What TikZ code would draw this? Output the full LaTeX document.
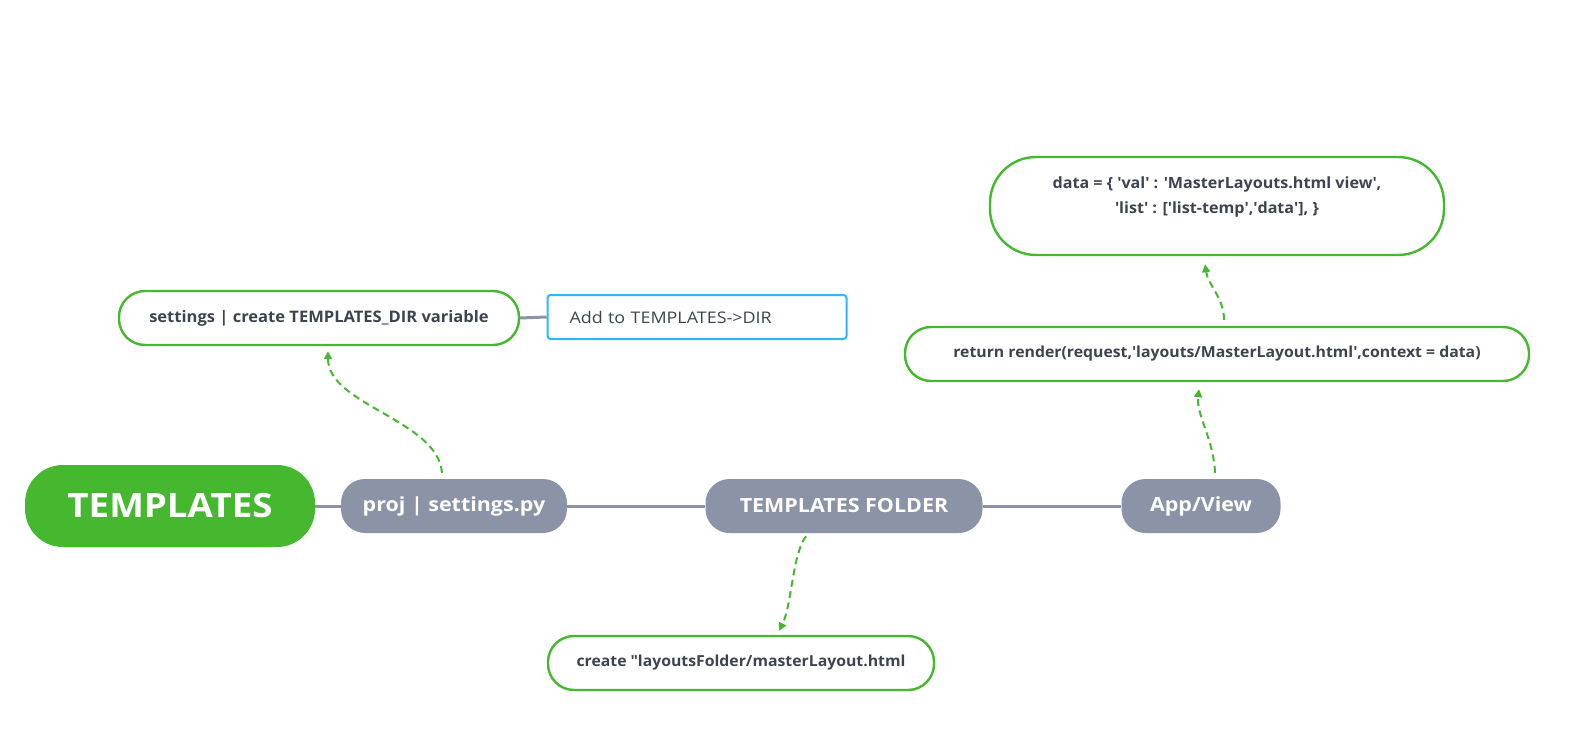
\documentclass[tikz,border=0pt]{standalone}
\usepackage{fontspec}
\setmainfont{Open Sans}
\newfontfamily\leaffont[FakeStretch=1.04]{Open Sans}
\newfontfamily\topicfont[FakeStretch=1.1]{Open Sans}
\newfontfamily\notefont[FakeStretch=1.12]{Open Sans}
\usetikzlibrary{arrows.meta}
\definecolor{mgreen}{HTML}{45B830}
\definecolor{mgray}{HTML}{8A94A6}
\definecolor{mtext}{HTML}{3D4451}
\definecolor{mblue}{HTML}{2DB7F5}
\newcommand{\sq}{\textquotesingle}
\tikzset{
  root/.style={fill=mgreen, rounded corners=38pt, minimum width=290pt, minimum height=82pt,
    inner sep=0pt, text=white, font=\topicfont\fontsize{33.4}{40}\selectfont\bfseries},
  topic/.style={fill=mgray, rounded corners=24pt, minimum height=54pt,
    inner sep=0pt, text=white, font=\topicfont\fontsize{19.5}{23}\selectfont\bfseries},
  leaf/.style={draw=mgreen, line width=2.4pt, fill=white, rounded corners=26pt,
    minimum height=54pt, inner sep=0pt, text=mtext, font=\leaffont\fontsize{15.2}{18}\selectfont\bfseries},
  note/.style={draw=mblue, line width=2pt, fill=white, rounded corners=3pt,
    minimum height=44pt, inner sep=0pt, text=mtext, font=\notefont\fontsize{16}{19}\selectfont},
  branch/.style={draw=mgray, line width=3pt},
  relation/.style={draw=mgreen, line width=2pt, dash pattern=on 7pt off 4.5pt,
    -{Triangle[length=8pt,width=8pt]}},
}
\begin{document}
\begin{tikzpicture}[x=1pt,y=-1pt]
\useasboundingbox (0,0) rectangle (1577,746);

% main row
\node[root] (root) at (170,506) {TEMPLATES};
\node[topic, minimum width=226pt] (proj) at (454,506) {proj | settings.py};
\node[topic, minimum width=277pt] (folder) at (844,506) {TEMPLATES FOLDER};
\node[topic, minimum width=159pt] (app) at (1201,506) {App/View};

% detail nodes
\node[leaf, minimum width=400pt, font=\leaffont\fontsize{15.9}{18}\selectfont\bfseries] (tdir) at (319,318)
  {settings | create TEMPLATES\_DIR variable};
\node[note, minimum width=299pt, text width=255pt, align=left] (add) at (697,317) {Add to TEMPLATES->DIR};
\node[leaf, minimum width=386pt] (create) at (741,663) {create \textquotedbl layoutsFolder/masterLayout.html};
\node[leaf, minimum width=624pt] (render) at (1217,354)
  {return render(request,\sq layouts/MasterLayout.html\sq,context = data)};
\node[leaf, minimum width=454pt, minimum height=98pt, rounded corners=46pt] (data) at (1217,206) {};
\node[font=\leaffont\fontsize{15.5}{23}\selectfont\bfseries, text=mtext, align=center, inner sep=0pt, anchor=north]
  (datatext) at (1217,177)
  {data = \{ \sq val\sq{} : \sq MasterLayouts.html view\sq,\\[2pt]\sq list\sq{} : [\sq list-temp\sq,\sq data\sq], \}};

% branch lines
\draw[branch] (root.east) -- (proj.west);
\draw[branch] (proj.east) -- (folder.west);
\draw[branch] (folder.east) -- (app.west);
\draw[branch] (tdir.east) -- (add.west);

% relation arrows
\coordinate (p1) at ([xshift=-12pt,yshift=6pt]proj.north);
\coordinate (p2) at ([xshift=9pt,yshift=-5pt]tdir.south);
\draw[relation] (p1) .. controls (438,420) and (328,405) .. (p2);

\coordinate (f1) at ([xshift=-38pt,yshift=-3pt]folder.south);
\coordinate (f2) at ([xshift=38pt,yshift=4pt]create.north);
\draw[relation] (f1) .. controls (792,555) and (792,605) .. (f2);

\coordinate (a1) at ([xshift=14pt,yshift=6pt]app.north);
\coordinate (a2) at ([xshift=-18pt,yshift=-7pt]render.south);
\draw[relation] (a1) .. controls (1214,440) and (1196,415) .. (a2);

\coordinate (r1) at ([xshift=7pt,yshift=6pt]render.north);
\coordinate (r2) at ([xshift=-12pt,yshift=-8pt]data.south);
\draw[relation] (r1) .. controls (1224,298) and (1208,285) .. (r2);
\end{tikzpicture}
\end{document}
